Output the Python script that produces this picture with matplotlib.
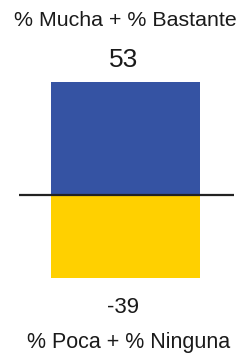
import matplotlib
matplotlib.use('Agg')
import matplotlib.pyplot as plt

plt.rcParams['font.family'] = ['Liberation Sans', 'DejaVu Sans']

# data
labels = ['% Mucha + % Bastante', '% Poca + % Ninguna']
values = [53, -39]
colors = ['#3553a3', '#ffd000']

W, H = 244, 355
fig = plt.figure(figsize=(W / 100, H / 100), dpi=100)
ax = fig.add_axes([0, 0, 1, 1])

# bar spans px 51..200, zero line at 195 px from top, ~2.13 px per unit
ax.bar([0, 0], values, width=1, align='edge', color=colors)
ax.hlines(0, (19 - 51) / 149, (234 - 51) / 149, color='#222222', lw=1.6)
ax.set_xlim(-51 / 149, 1 + 44 / 149)
ax.set_ylim(-(H - 195) / 2.13, 195 / 2.13)
ax.axis('off')

fig.text(125 / W, 1 - 26 / H, labels[0], ha='center', va='baseline', fontsize=15.4, color='#1a1a1a')
fig.text(123.5 / W, 1 - 67 / H, str(values[0]), ha='center', va='baseline', fontsize=19, color='#1a1a1a')
fig.text(123 / W, 1 - 313 / H, str(values[1]), ha='center', va='baseline', fontsize=16, color='#1a1a1a')
fig.text(128.5 / W, 1 - 348 / H, labels[1], ha='center', va='baseline', fontsize=15.5, color='#1a1a1a')

fig.savefig('out.png', dpi=100)
